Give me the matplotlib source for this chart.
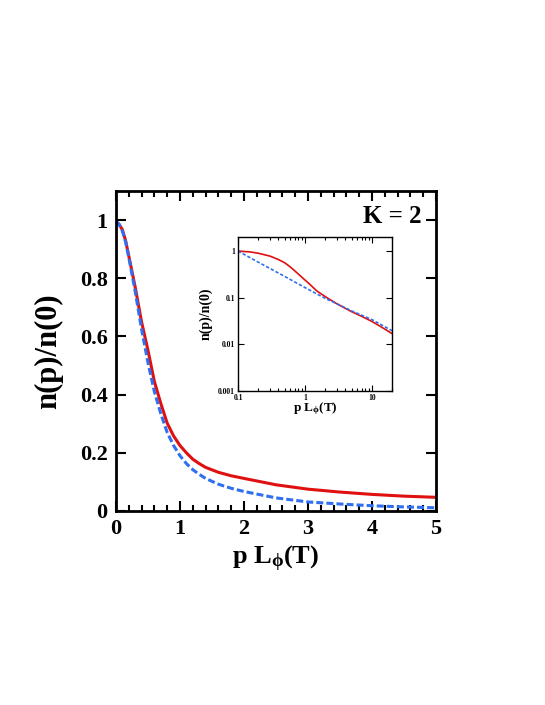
import numpy as np
import matplotlib
matplotlib.use('Agg')
import matplotlib.pyplot as plt
from matplotlib.ticker import MultipleLocator, FixedLocator, NullFormatter

plt.rcParams['font.family'] = ['Liberation Serif', 'DejaVu Serif']
plt.rcParams['font.weight'] = 'bold'
plt.rcParams['mathtext.fontset'] = 'custom'
plt.rcParams['mathtext.rm'] = 'Liberation Serif:bold'
plt.rcParams['mathtext.it'] = 'Liberation Serif:bold'
plt.rcParams['mathtext.bf'] = 'Liberation Serif:bold'

# main panel, linear scale
x_main = [0, 0.05, 0.1, 0.15, 0.2, 0.3, 0.4, 0.5, 0.6, 0.7, 0.8, 0.9, 1.0,
          1.1, 1.2, 1.3, 1.4, 1.6, 1.8, 2.0, 2.5, 3.0, 3.5, 4.0, 4.5, 5.0]
red_main = [0.995, 0.985, 0.967, 0.93, 0.877, 0.77, 0.65, 0.552, 0.445, 0.37,
            0.302, 0.258, 0.225, 0.2, 0.178, 0.163, 0.15, 0.133, 0.121, 0.112,
            0.09, 0.075, 0.065, 0.057, 0.051, 0.047]
blue_main = [0.995, 0.985, 0.962, 0.925, 0.872, 0.755, 0.625, 0.51, 0.41,
             0.335, 0.27, 0.225, 0.19, 0.163, 0.142, 0.126, 0.112, 0.092,
             0.078, 0.067, 0.045, 0.031, 0.024, 0.018, 0.014, 0.011]

# inset, log-log
x_in_red = [0.1, 0.15, 0.2, 0.3, 0.4, 0.5, 0.6, 0.7, 1.0, 1.2, 1.5, 2.0, 3.0,
            5.0, 7.0, 10, 15, 20]
red_in = [1.0, 0.96, 0.9, 0.78, 0.66, 0.56, 0.46, 0.38, 0.24, 0.19, 0.14,
          0.106, 0.074, 0.05, 0.04, 0.031, 0.022, 0.017]
x_in_blue = [0.1, 0.2, 0.5, 1, 2, 3, 5, 10, 20]
blue_in = [1.0, 0.58, 0.285, 0.165, 0.097, 0.074, 0.052, 0.034, 0.0196]

red = '#e01010'
blue = '#2f6ff0'

fig = plt.figure(figsize=(5.45, 7.05), dpi=100)
ax = fig.add_axes([0.2128, 0.2752, 0.5872, 0.4539])

ax.plot(x_main, red_main, color=red, lw=2.2)
ax.plot(x_main, blue_main, color=blue, lw=2.2, dashes=(2.3, 1.0))
ax.set_xlim(0, 5)
ax.set_ylim(0, 1.1)
ax.xaxis.set_major_locator(MultipleLocator(1))
ax.xaxis.set_minor_locator(MultipleLocator(0.2))
ax.set_yticks([0, 0.2, 0.4, 0.6, 0.8, 1.0])
ax.set_yticklabels(['0', '0.2', '0.4', '0.6', '0.8', '1'])
ax.tick_params(which='both', direction='in', top=True, right=True, width=1.5,
               labelsize=16)
ax.tick_params(which='major', length=7, pad=6)
ax.tick_params(which='minor', length=4)
for s in ax.spines.values():
    s.set_linewidth(2)
ax.set_xlabel(r'p L$_{\phi}$(T)', fontsize=19, fontweight='bold', labelpad=3)
ax.set_ylabel('n(p)/n(0)', fontsize=22, fontweight='bold', labelpad=12)
ax.text(0.955, 0.92, 'K = 2', transform=ax.transAxes, ha='right', va='center',
        fontsize=18, fontweight='bold')

# inset
axi = fig.add_axes([0.4367, 0.4454, 0.2826, 0.2184])
axi.loglog(x_in_red, red_in, color=red, lw=1.2)
axi.loglog(x_in_blue, blue_in, color=blue, lw=1.2, dashes=(2.0, 1.2))
axi.set_xlim(0.1, 20)
axi.set_ylim(0.001, 2)
axi.set_xticks([0.1, 1, 10])
axi.set_xticklabels(['0.1', '1', '10'])
axi.set_yticks([0.001, 0.01, 0.1, 1])
axi.set_yticklabels(['0.001', '0.01', '0.1', '1'])
axi.yaxis.set_minor_locator(FixedLocator([]))
axi.xaxis.set_minor_formatter(NullFormatter())
axi.tick_params(which='both', direction='in', top=True, right=True, width=0.8,
                labelsize=5.5)
axi.tick_params(which='major', length=4, pad=2)
axi.tick_params(which='minor', length=2)
for s in axi.spines.values():
    s.set_linewidth(1)
axi.set_xlabel(r'p L$_{\phi}$(T)', fontsize=9.5, fontweight='bold', labelpad=-1)
axi.set_ylabel('n(p)/n(0)', fontsize=10, fontweight='bold', labelpad=4)

fig.savefig('out.png', dpi=100)
